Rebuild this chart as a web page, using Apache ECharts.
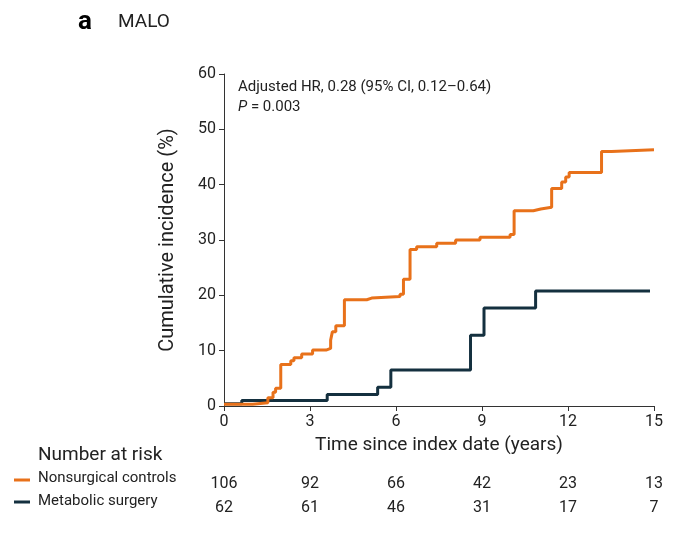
<!DOCTYPE html>
<html>
<head>
<meta charset="utf-8">
<script src="https://cdn.jsdelivr.net/npm/echarts@6/dist/echarts.min.js"></script>
<style>html,body{margin:0;background:#fff}#chart{width:680px;height:544px}</style>
</head>
<body>
<div id="chart"></div>
<script>
// step points [years, cumulative %]
var controls = [[0,0.3],[0.66,0.3],[1.0,0.6],[1.53,1.5],[1.71,2.5],[1.8,3.2],[1.98,7.5],[2.33,8.2],[2.44,8.7],[2.71,9.4],[3.09,10.1],[3.56,10.4],[3.72,11.9],[3.78,13.4],[3.9,14.5],[4.2,19.2],[4.98,19.5],[5.15,19.8],[6.14,20.2],[6.26,22.9],[6.49,28.3],[6.72,28.8],[7.42,29.4],[8.08,30.0],[8.93,30.5],[9.98,31.0],[10.12,35.3],[10.79,35.6],[11.05,35.9],[11.43,39.3],[11.78,40.5],[11.92,41.4],[12.04,42.2],[13.17,46.0],[13.52,46.3],[15,46.3]];
var surgery = [[0,0.4],[0.62,1.0],[3.6,2.1],[5.36,3.4],[5.82,6.5],[8.6,12.8],[9.07,17.7],[10.87,20.8],[14.86,20.8]];
var riskTimes = [0, 3, 6, 9, 12, 15];
var riskControls = [106, 92, 66, 42, 23, 13];
var riskSurgery = [62, 61, 46, 31, 17, 7];

var orange = '#E8711A', navy = '#14303F';
var font = 'Roboto';
var chart = echarts.init(document.getElementById('chart'));

var gridLeft = 224, gridRight = 26;
var xOf = function (t) { return gridLeft + t / 15 * (680 - gridLeft - gridRight); };
var graphics = [
  {type:'text', left:78, top:9, style:{text:'a', font:'bold 26px ' + font, fill:'#000'}},
  {type:'text', left:118, top:13, style:{text:'MALO', font:'19px ' + font, fill:'#222'}},
  {type:'text', left:238, top:80, style:{text:'Adjusted HR, 0.28 (95% CI, 0.12\u20130.64)', font:'15px ' + font, fill:'#222'}},
  {type:'text', left:238, top:100, style:{rich:{i:{fontStyle:'italic', fontSize:15, fontFamily:font, fill:'#222'}, n:{fontSize:15, fontFamily:font, fill:'#222'}}, text:'{i|P}{n| = 0.003}'}},
  {type:'text', left:38, top:446, style:{text:'Number at risk', font:'19px ' + font, fill:'#222'}},
  {type:'line', shape:{x1:14, y1:480, x2:30, y2:480}, style:{stroke:orange, lineWidth:3}},
  {type:'text', left:38, top:471, style:{text:'Nonsurgical controls', font:'15px ' + font, fill:'#222'}},
  {type:'line', shape:{x1:14, y1:502, x2:30, y2:502}, style:{stroke:navy, lineWidth:3}},
  {type:'text', left:38, top:494, style:{text:'Metabolic surgery', font:'15px ' + font, fill:'#222'}}
];
riskTimes.forEach(function (t, i) {
  graphics.push({type:'text', x:xOf(t), y:484, style:{text:String(riskControls[i]), font:'16px ' + font, fill:'#222', align:'center', verticalAlign:'middle'}});
  graphics.push({type:'text', x:xOf(t), y:508, style:{text:String(riskSurgery[i]), font:'16px ' + font, fill:'#222', align:'center', verticalAlign:'middle'}});
});

var option = {
  animation: false,
  textStyle: {fontFamily: font},
  grid: {left: gridLeft, right: gridRight, top: 74, bottom: 138},
  xAxis: {
    type: 'value', min: 0, max: 15, interval: 3,
    name: 'Time since index date (years)', nameLocation: 'middle', nameGap: 30,
    nameTextStyle: {fontSize: 19, color: '#222'},
    axisLine: {lineStyle: {color: '#333'}},
    axisTick: {lineStyle: {color: '#333'}},
    axisLabel: {fontSize: 16, color: '#222'},
    splitLine: {show: false}
  },
  yAxis: {
    type: 'value', min: 0, max: 60, interval: 10,
    name: 'Cumulative incidence (%)', nameLocation: 'middle', nameGap: 46,
    nameTextStyle: {fontSize: 20, color: '#222'},
    axisLine: {show: true, lineStyle: {color: '#333'}},
    axisTick: {show: true, lineStyle: {color: '#333'}},
    axisLabel: {fontSize: 16, color: '#222'},
    splitLine: {show: false}
  },
  series: [
    {type: 'line', step: 'end', data: surgery, showSymbol: false, lineStyle: {color: navy, width: 3}, z: 2},
    {type: 'line', step: 'end', data: controls, showSymbol: false, lineStyle: {color: orange, width: 3}, z: 3}
  ],
  graphic: graphics
};
chart.setOption(option);
</script>
</body>
</html>
